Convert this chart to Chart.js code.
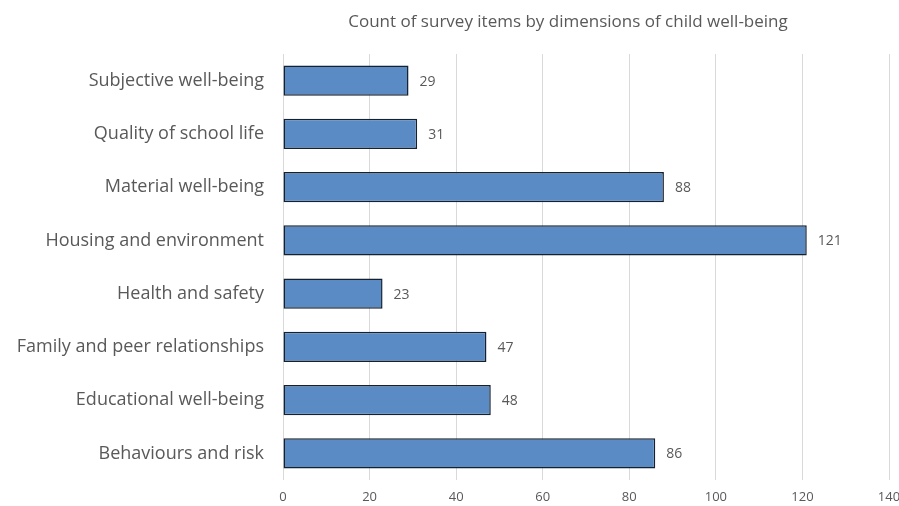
<!DOCTYPE html>
<html>
<head>
<meta charset="utf-8">
<script src="https://cdn.jsdelivr.net/npm/chart.js@4/dist/chart.umd.min.js"></script>
<style>
  html, body { margin: 0; padding: 0; background: #fff; }
  #wrap { width: 899px; height: 506px; }
</style>
</head>
<body>
<div id="wrap"><canvas id="chart" width="899" height="506"></canvas></div>
<script>
// dimensions and item counts
const categories = [
  "Subjective well-being",
  "Quality of school life",
  "Material well-being",
  "Housing and environment",
  "Health and safety",
  "Family and peer relationships",
  "Educational well-being",
  "Behaviours and risk"
];
const itemCounts = [29, 31, 88, 121, 23, 47, 48, 86];
const xTicks = [0, 20, 40, 60, 80, 100, 120, 140];
const chartTitle = "Count of survey items by dimensions of child well-being";

const textColor = "#595959";
const fontFamily = "'Open Sans', 'Liberation Sans', sans-serif";

// title is drawn by hand so it can sit where the original had it
const titleText = {
  id: "titleText",
  afterDraw(chart) {
    const ctx = chart.ctx;
    ctx.save();
    ctx.font = "17px " + fontFamily;
    ctx.fillStyle = textColor;
    ctx.textAlign = "center";
    ctx.textBaseline = "middle";
    ctx.fillText(chartTitle, 568, 22);
    ctx.restore();
  }
};

// value labels at the end of each bar
const barLabels = {
  id: "barLabels",
  afterDatasetsDraw(chart) {
    const ctx = chart.ctx;
    ctx.save();
    ctx.font = "14px " + fontFamily;
    ctx.fillStyle = textColor;
    ctx.textAlign = "left";
    ctx.textBaseline = "middle";
    chart.getDatasetMeta(0).data.forEach((bar, i) => {
      ctx.fillText(itemCounts[i], bar.x + 11, bar.y + 1);
    });
    ctx.restore();
  }
};

new Chart(document.getElementById("chart").getContext("2d"), {
  type: "bar",
  data: {
    labels: categories,
    datasets: [{
      data: itemCounts,
      backgroundColor: "#5b8bc5",
      borderColor: "#17212e",
      borderWidth: 1.5,
      borderSkipped: false,
      categoryPercentage: 1,
      barPercentage: 0.57
    }]
  },
  options: {
    indexAxis: "y",
    responsive: false,
    animation: false,
    layout: { padding: { left: 0, right: 10, top: 54, bottom: 0 } },
    plugins: {
      legend: { display: false },
      tooltip: { enabled: false },
      title: { display: false }
    },
    scales: {
      x: {
        min: 0,
        max: 140,
        afterBuildTicks: (scale) => { scale.ticks = xTicks.map(v => ({ value: v })); },
        afterFit: (scale) => { scale.paddingLeft = 0; scale.paddingRight = 0; scale.height = 26; },
        grid: { color: "#d9d9d9", drawTicks: false },
        border: { display: false },
        ticks: { color: textColor, font: { family: fontFamily, size: 13 }, padding: 9 }
      },
      y: {
        grid: { display: false },
        border: { display: false },
        afterFit: (scale) => { scale.width = 283; },
        ticks: { color: textColor, font: { family: fontFamily, size: 18 }, padding: 11 }
      }
    }
  },
  plugins: [barLabels, titleText]
});
</script>
</body>
</html>
